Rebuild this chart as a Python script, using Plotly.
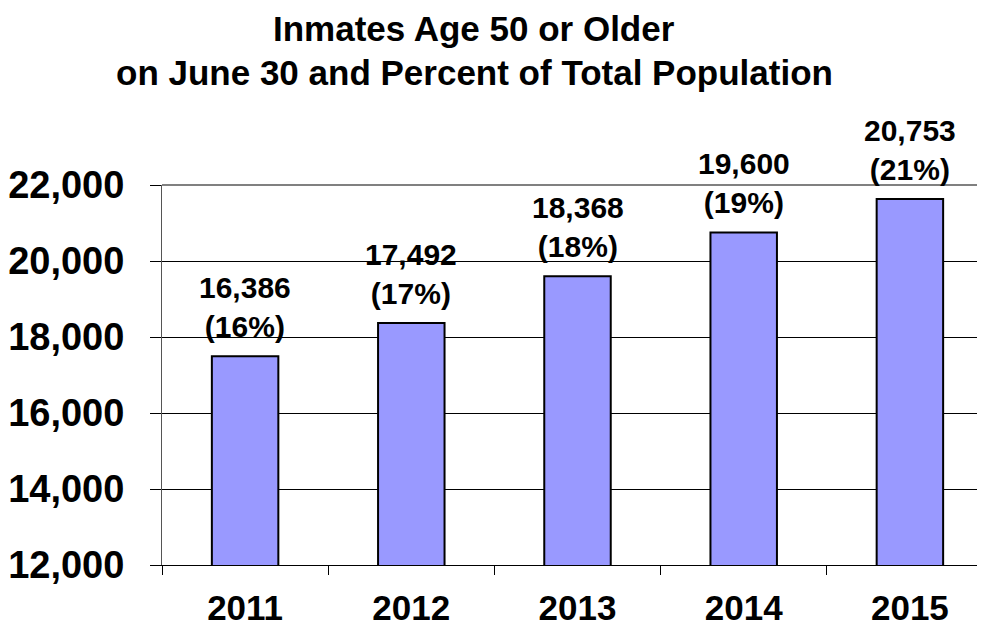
import plotly.graph_objects as go

years = ["2011", "2012", "2013", "2014", "2015"]
bar_values = [17492, 18368, 19600, 20753, 21630]
label_counts = ["16,386", "17,492", "18,368", "19,600", "20,753"]
label_pcts = ["(16%)", "(17%)", "(18%)", "(19%)", "(21%)"]
y_ticks = [12000, 14000, 16000, 18000, 20000, 22000]
title_lines = ["Inmates Age 50 or Older", "on June 30 and Percent of Total Population"]

FONT = "Liberation Sans, Arial"

fig = go.Figure()
fig.add_trace(go.Bar(
    x=years, y=bar_values, width=0.4,
    marker=dict(color="#9999FF", line=dict(color="black", width=2)),
    hoverinfo="skip",
))

annotations = []
for i, (y, c, p) in enumerate(zip(bar_values, label_counts, label_pcts)):
    annotations.append(dict(
        x=i, y=y, xref="x", yref="y", text=f"<b>{c}<br>{p}</b>",
        showarrow=False, xanchor="center", yanchor="bottom", yshift=11,
        font=dict(family=FONT, size=30, color="black"),
    ))
for ty, line in zip([1.413, 1.297], title_lines):
    annotations.append(dict(
        x=0.3755, y=ty, xref="paper", yref="paper", text=f"<b>{line}</b>",
        showarrow=False, xanchor="center", yanchor="middle",
        font=dict(family=FONT, size=35, color="black"),
    ))

fig.update_layout(
    width=985, height=626,
    margin=dict(l=154, r=0, t=177, b=69),
    paper_bgcolor="white", plot_bgcolor="white",
    font=dict(family=FONT, color="black"),
    showlegend=False,
    annotations=annotations,
    shapes=[dict(type="line", xref="paper", yref="paper", x0=0, x1=1, y0=1, y1=1,
                 line=dict(color="#808080", width=2), layer="above")],
)
fig.update_xaxes(
    type="category", range=[-0.5, 4.5],
    showline=True, linecolor="black", linewidth=1,
    ticks="outside", tickson="boundaries", ticklen=9, tickcolor="black",
    ticklabelstandoff=12,
    tickfont=dict(size=35, family=FONT, color="black", weight="bold"),
    showgrid=False,
)
fig.update_yaxes(
    range=[12000, 22000], tickvals=y_ticks,
    tickformat=",d",
    showline=True, linecolor="#555555", linewidth=1,
    ticks="outside", ticklen=11, tickcolor="black",
    ticklabelstandoff=18,
    tickfont=dict(size=38, family=FONT, color="black", weight="bold"),
    showgrid=True, gridcolor="black", gridwidth=1,
    zeroline=False,
)

fig.write_html("out.html")
